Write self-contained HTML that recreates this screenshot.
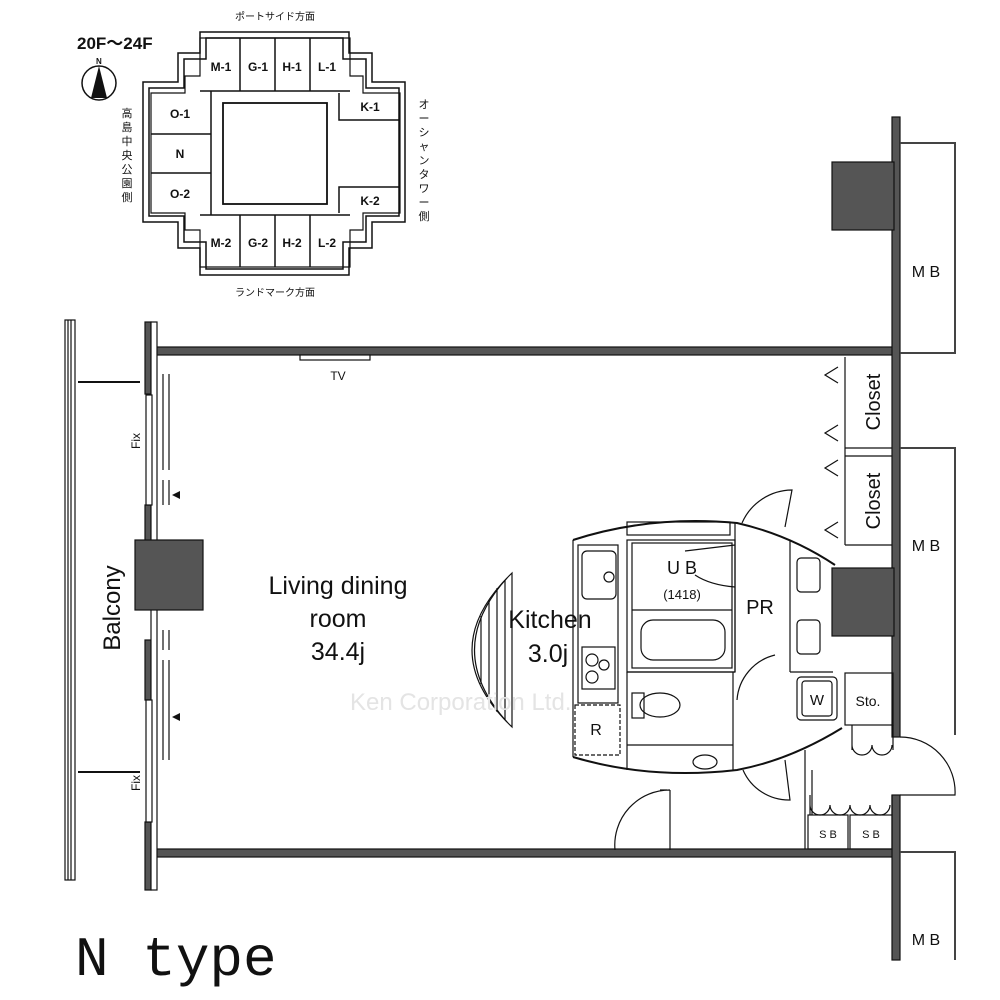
<!DOCTYPE html>
<html><head><meta charset="utf-8"><style>
html,body{margin:0;padding:0;background:#fff;}
svg{display:block;}
text{font-family:"Liberation Sans","Noto Sans CJK JP",sans-serif;fill:#111;}
</style></head><body>
<svg width="1000" height="1000" viewBox="0 0 1000 1000" xmlns="http://www.w3.org/2000/svg">
<!-- KEY PLAN -->
<g fill="none" stroke="#111" stroke-width="1.5">
<polygon points="200,32 349,32 349,53 372,53 372,82 405,82 405,222 372,222 372,248 349,248 349,275 200,275 200,248 178,248 178,222 143,222 143,82 178,82 178,53 200,53"/>
<polygon points="206,38 343,38 343,59 366,59 366,88 399,88 399,216 366,216 366,242 343,242 343,269 206,269 206,242 184,242 184,216 149,216 149,88 184,88 184,59 206,59"/>
<polygon points="200,38 350,38 350,76 363,76 363,93 400,93 400,213 363,213 363,230 350,230 350,267 200,267 200,230 185,230 185,213 151,213 151,93 185,93 185,76 200,76" stroke-width="1.2"/>
<path d="M200,91 H350 M240,38 V91 M275,38 V91 M310,38 V91 M211,91 V215 M151,134 H211 M151,173 H211 M339,93 V120 H400 M339,213 V187 H400 M200,215 H350 M240,215 V267 M275,215 V267 M310,215 V267"/>
<rect x="223" y="103" width="104" height="101" stroke-width="1.8"/>
<circle cx="99" cy="83" r="17" stroke-width="1.5"/>
</g>
<polygon points="99,66 91,98 107,98" fill="#111"/>
<text x="96" y="64" font-size="8" font-weight="bold">N</text>
<text x="77" y="49" font-size="17" font-weight="bold">20F～24F</text>
<g font-size="12" font-weight="bold" text-anchor="middle">
<text x="221" y="71">M-1</text><text x="258" y="71">G-1</text><text x="292" y="71">H-1</text><text x="327" y="71">L-1</text>
<text x="370" y="111">K-1</text><text x="370" y="205">K-2</text>
<text x="180" y="118">O-1</text><text x="180" y="158">N</text><text x="180" y="198">O-2</text>
<text x="221" y="247">M-2</text><text x="258" y="247">G-2</text><text x="292" y="247">H-2</text><text x="327" y="247">L-2</text>
</g>
<g font-size="10" text-anchor="middle">
<text x="275" y="20">ポートサイド方面</text>
<text x="275" y="296">ランドマーク方面</text>
</g>
<g font-size="11" text-anchor="middle">
<text x="127" y="117">高</text><text x="127" y="131">島</text><text x="127" y="145">中</text><text x="127" y="159">央</text><text x="127" y="173">公</text><text x="127" y="187">園</text><text x="127" y="201">側</text>
<text x="424" y="108">オ</text><text x="424" y="122">ー</text><text x="424" y="136">シ</text><text x="424" y="150">ャ</text><text x="424" y="164">ン</text><text x="424" y="178">タ</text><text x="424" y="192">ワ</text><text x="424" y="206">ー</text><text x="424" y="220">側</text>
</g>

<!-- MAIN PLAN -->
<g stroke="#111" stroke-width="1.2">
<rect x="148" y="347" width="745" height="8" fill="#555"/>
<rect x="148" y="849" width="745" height="8" fill="#555"/>
<rect x="892" y="117" width="8" height="620" fill="#555"/>
<rect x="892" y="795" width="8" height="165" fill="#555"/>
<rect x="145" y="322" width="6" height="72" fill="#555"/>
<rect x="145" y="505" width="6" height="65" fill="#555"/>
<rect x="145" y="640" width="6" height="60" fill="#555"/>
<rect x="145" y="822" width="6" height="68" fill="#555"/>
<rect x="151" y="322" width="6" height="568" fill="#fff"/>
<rect x="65" y="320" width="10" height="560" fill="#fff"/>
<line x1="68" y1="320" x2="68" y2="880"/><line x1="71" y1="320" x2="71" y2="880"/>
<line x1="78" y1="382" x2="140" y2="382" stroke-width="2"/>
<line x1="78" y1="772" x2="140" y2="772" stroke-width="2"/>
<rect x="146" y="395" width="6" height="110" fill="#fff"/>
<rect x="146" y="700" width="6" height="122" fill="#fff"/>
<rect x="135" y="540" width="68" height="70" fill="#555"/>
<rect x="832" y="162" width="62" height="68" fill="#555"/>
<rect x="832" y="568" width="62" height="68" fill="#555"/>
<g stroke-width="1.2">
<path d="M163,374 V470 M169,374 V470 M163,480 V505 M169,480 V505"/>
<path d="M163,630 V650 M169,630 V650 M163,660 V760 M169,660 V760"/>
</g>
<path d="M900,143 H955 V353 H900" fill="none" stroke="#444" stroke-width="2"/>
<path d="M900,448 H955 V735" fill="none" stroke="#444" stroke-width="2"/>
<path d="M900,852 H955 V960" fill="none" stroke="#444" stroke-width="2"/>
<rect x="300" y="355" width="70" height="5" fill="#fff"/>
<path d="M845,357 V545 M845,448 H892 M845,456 H892 M845,545 H892" fill="none"/>
<path d="M838,367 L825,375 L838,383 M838,425 L825,433 L838,441 M838,460 L825,468 L838,476 M838,522 L825,530 L838,538" fill="none"/>
<path d="M573,540 Q650,515 737,523 Q790,535 835,565" fill="none" stroke-width="2"/>
<path d="M573,757 Q650,780 737,770 Q790,760 842,728" fill="none" stroke-width="2"/>
<path d="M573,540 V757" fill="none"/>
<rect x="578" y="545" width="40" height="158" fill="none"/>
<rect x="582" y="551" width="34" height="48" rx="5" fill="none"/>
<circle cx="609" cy="577" r="5" fill="none"/>
<rect x="582" y="647" width="33" height="42" fill="none"/>
<circle cx="592" cy="660" r="6" fill="none"/><circle cx="604" cy="665" r="5" fill="none"/><circle cx="592" cy="677" r="6" fill="none"/>
<rect x="575" y="705" width="45" height="50" fill="none" stroke-dasharray="4,2"/>
<rect x="627" y="522" width="103" height="13" fill="none"/>
<rect x="627" y="540" width="108" height="132" fill="none"/>
<rect x="632" y="543" width="100" height="125" fill="none"/>
<line x1="632" y1="610" x2="732" y2="610"/>
<rect x="641" y="620" width="84" height="40" rx="12" fill="none"/>
<path d="M685,551 L735,545 M695,575 Q710,585 735,587" fill="none"/>
<path d="M735,523 V672 M790,540 V672 M790,672 H833" fill="none"/>
<rect x="797" y="558" width="23" height="34" rx="4" fill="none"/>
<rect x="797" y="620" width="23" height="34" rx="4" fill="none"/>
<path d="M627,672 H735 M627,672 V770 M627,745 H733 M733,672 V770" fill="none"/>
<ellipse cx="660" cy="705" rx="20" ry="12" fill="none"/>
<rect x="632" y="693" width="12" height="25" fill="none"/>
<ellipse cx="705" cy="762" rx="12" ry="7" fill="none"/>
<rect x="797" y="677" width="40" height="43" rx="4" fill="none"/>
<rect x="802" y="681" width="30" height="35" rx="3" fill="none"/>
<rect x="845" y="673" width="48" height="52" fill="none"/>
<path d="M742,523 A55,55 0 0 1 792,490 L785,527" fill="none"/>
<path d="M737,700 A50,50 0 0 1 775,655" fill="none"/>
<path d="M743,770 A50,50 0 0 0 790,800 L785,760" fill="none"/>
<path d="M670,790 V850 M615,850 A55,55 0 0 1 670,790 M667,790 H660 M900,737 A55,55 0 0 1 955,795 H900" fill="none"/>
<path d="M852,725 V750 M893,725 V750 M852,745 A10,10 0 0 0 872,745 A10,10 0 0 0 892,745" fill="none"/>
<path d="M810,795 V815 M892,795 V815 M810,805 A10,10 0 0 0 830,805 A10,10 0 0 0 850,805 A10,10 0 0 0 870,805 A10,10 0 0 0 890,805" fill="none"/>
<path d="M805,750 V849 M812,770 V815" fill="none"/>
<rect x="808" y="815" width="40" height="34" fill="none"/>
<rect x="850" y="815" width="42" height="34" fill="none"/>
<!-- hatched counter -->
<path d="M512,573 Q432,650 512,727 L512,725 V573 Z" fill="none"/>
<path d="M507,578 Q442,650 507,722" fill="none"/>
<path d="M505,580 V720 M497,588 V712 M489,600 V700 M481,616 V684" fill="none"/>
</g>
<polygon points="172,495 180,491 180,499" fill="#111"/>
<polygon points="172,717 180,713 180,721" fill="#111"/>

<text x="338" y="368" font-size="12" text-anchor="middle" dy="12">TV</text>
<text x="140" y="441" font-size="12" transform="rotate(-90 140 441)" text-anchor="middle">Fix</text>
<text x="140" y="783" font-size="12" transform="rotate(-90 140 783)" text-anchor="middle">Fix</text>
<text x="120" y="608" font-size="24" transform="rotate(-90 120 608)" text-anchor="middle">Balcony</text>
<g font-size="25" text-anchor="middle">
<text x="338" y="594">Living dining</text>
<text x="338" y="627">room</text>
<text x="338" y="660">34.4j</text>
<text x="550" y="628">Kitchen</text>
<text x="548" y="662">3.0j</text>
</g>
<text x="682" y="574" font-size="18" text-anchor="middle">U B</text>
<text x="682" y="599" font-size="13" text-anchor="middle">(1418)</text>
<text x="760" y="614" font-size="20" text-anchor="middle">PR</text>
<text x="596" y="735" font-size="16" text-anchor="middle">R</text>
<text x="817" y="705" font-size="15" text-anchor="middle">W</text>
<text x="868" y="706" font-size="14" text-anchor="middle">Sto.</text>
<text x="828" y="838" font-size="11" text-anchor="middle">S B</text>
<text x="871" y="838" font-size="11" text-anchor="middle">S B</text>
<text x="880" y="402" font-size="20" transform="rotate(-90 880 402)" text-anchor="middle">Closet</text>
<text x="880" y="501" font-size="20" transform="rotate(-90 880 501)" text-anchor="middle">Closet</text>
<text x="926" y="277" font-size="16" text-anchor="middle">M B</text>
<text x="926" y="551" font-size="16" text-anchor="middle">M B</text>
<text x="926" y="945" font-size="16" text-anchor="middle">M B</text>
<text x="350" y="710" font-size="24" style="fill:#e4e4e4">Ken Corporation Ltd.</text>
<text x="75" y="975" font-size="56" style="font-family:'Liberation Mono',monospace">N type</text>
</svg>
</body></html>
